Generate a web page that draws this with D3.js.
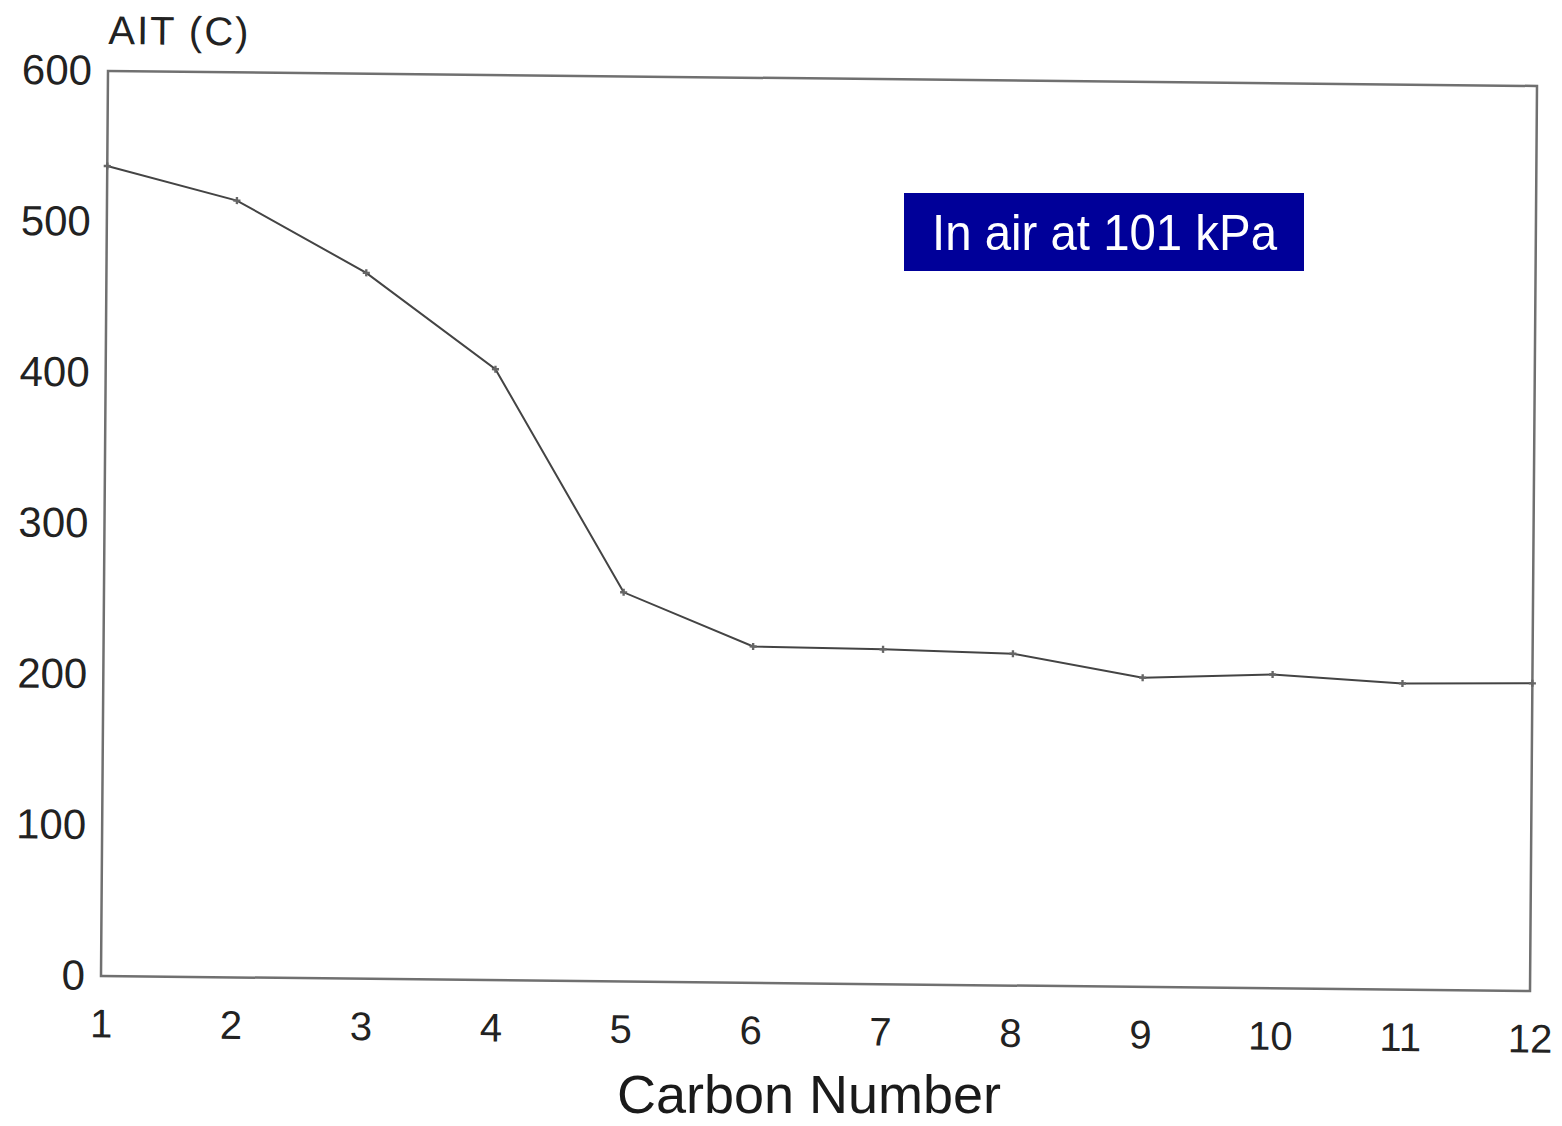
<!DOCTYPE html>
<html>
<head>
<meta charset="UTF-8">
<title>AIT vs Carbon Number</title>
<style>
    body {
        margin: 0;
        background: #fff;
        font-family: "Liberation Sans", Arial, Helvetica, sans-serif;
    }
    svg text {
        font-family: "Liberation Sans", Arial, Helvetica, sans-serif;
    }
</style>
</head>
<body>
<div id="chart"></div>
<script src="https://d3js.org/d3.v7.min.js"></script>
<script>

// data
let carbonNumbers = [1, 2, 3, 4, 5, 6, 7, 8, 9, 10, 11, 12];
let aitValues = [537, 515, 468, 405, 258, 223, 222, 220, 205, 208, 203, 204];
let yTicks = [0, 100, 200, 300, 400, 500, 600];
let xTicks = [1, 2, 3, 4, 5, 6, 7, 8, 9, 10, 11, 12];

let width = 1562, height = 1126;
let plotW = 1429, plotH = 905;

let svg = d3.select("#chart")
    .append("svg")
    .attr("width", width)
    .attr("height", height);

// the scan is slightly skewed, so the plot sits in a sheared group
let plot = svg.append("g")
    .attr("transform", "matrix(1," + (15 / plotW) + "," + (-7 / plotH) + ",1,108,71)");

let x = d3.scaleLinear().domain([1, 12]).range([0, plotW]);
let y = d3.scaleLinear().domain([0, 600]).range([plotH, 0]);

plot.append("rect")
    .attr("x", 0)
    .attr("y", 0)
    .attr("width", plotW)
    .attr("height", plotH)
    .attr("fill", "none")
    .attr("stroke", "#707070")
    .attr("stroke-width", 2.5);

let yAxis = plot.append("g")
    .call(d3.axisLeft(y).tickValues(yTicks).tickSize(0).tickPadding(16));
yAxis.select(".domain").remove();
yAxis.selectAll("text")
    .attr("font-size", 42)
    .attr("fill", "#222");

let xAxis = plot.append("g")
    .attr("transform", "translate(0," + plotH + ")")
    .call(d3.axisBottom(x).tickValues(xTicks).tickSize(0).tickPadding(33));
xAxis.select(".domain").remove();
xAxis.selectAll("text")
    .attr("font-size", 40)
    .attr("fill", "#222");

plot.append("text")
    .attr("x", 0)
    .attr("y", -27)
    .attr("font-size", 40)
    .attr("letter-spacing", 2)
    .attr("fill", "#222")
    .text("AIT (C)");

let line = d3.line()
    .x((d, i) => x(carbonNumbers[i]))
    .y(d => y(d));

plot.append("path")
    .datum(aitValues)
    .attr("d", line)
    .attr("fill", "none")
    .attr("stroke", "#444")
    .attr("stroke-width", 2);

plot.selectAll(".pt")
    .data(aitValues)
    .enter()
    .append("path")
    .attr("class", "pt")
    .attr("transform", (d, i) => "translate(" + x(carbonNumbers[i]) + "," + y(d) + ")")
    .attr("d", d3.symbol(d3.symbolCross).size(28))
    .attr("fill", "#666");

svg.append("text")
    .attr("x", 809)
    .attr("y", 1113)
    .attr("text-anchor", "middle")
    .attr("font-size", 54)
    .attr("fill", "#1a1a1a")
    .text("Carbon Number");

// annotation box
svg.append("rect")
    .attr("x", 904)
    .attr("y", 193)
    .attr("width", 400)
    .attr("height", 78)
    .attr("fill", "#000099");

svg.append("text")
    .attr("x", 932)
    .attr("y", 250)
    .attr("font-size", 50)
    .attr("textLength", 345)
    .attr("lengthAdjust", "spacingAndGlyphs")
    .attr("fill", "#fff")
    .text("In air at 101 kPa");

</script>
</body>
</html>
